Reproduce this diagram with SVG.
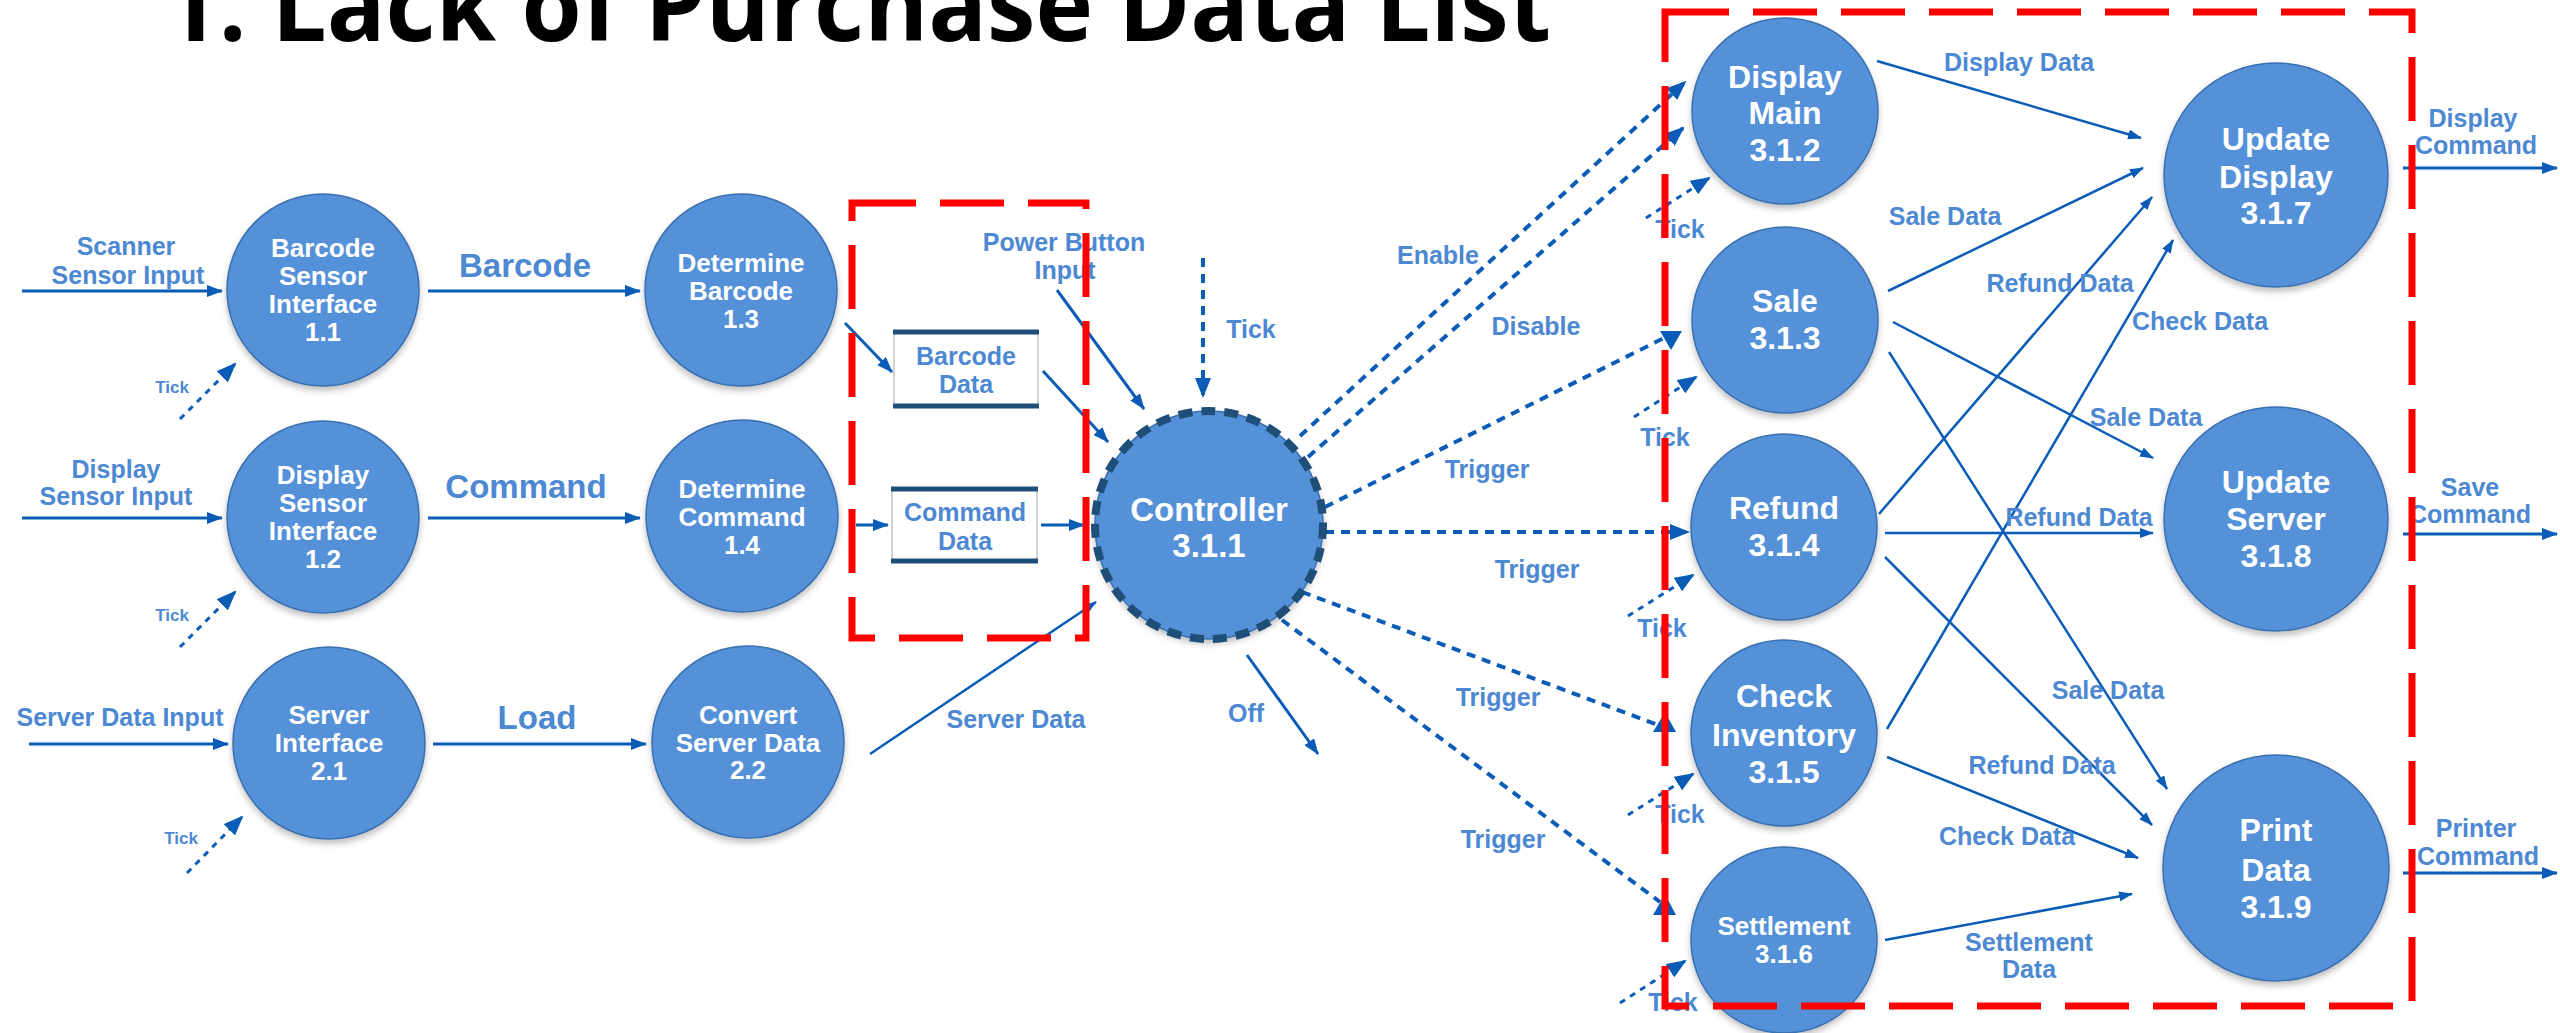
<svg xmlns="http://www.w3.org/2000/svg" width="2560" height="1033" viewBox="0 0 2560 1033">
<style>
.bub{fill:#5591d8;stroke:#3b6fae;stroke-width:1.5;filter:url(#sh)}
.nt{font-family:"Liberation Sans",Arial,sans-serif;font-weight:bold;fill:#ffffff;text-anchor:middle}
.s26{font-size:26px}
.s32{font-size:32px}
.s33{font-size:33px}
.lbl{font-family:"Liberation Sans",Arial,sans-serif;font-weight:bold;fill:#4d88d2;text-anchor:middle;font-size:25px}
.big{font-size:33px}
.sm{font-size:17px}
.ar{fill:none;stroke:#0b5cb6;stroke-width:3;marker-end:url(#ah)}
.ar2{fill:none;stroke:#0b5cb6;stroke-width:2.5;marker-end:url(#ahs)}
.dsh{fill:none;stroke:#0b5cb6;stroke-width:4;stroke-dasharray:9 7}
.dsha{fill:none;stroke:#0b5cb6;stroke-width:4;stroke-dasharray:9 7;marker-end:url(#ahd)}
.tck{fill:none;stroke:#0b5cb6;stroke-width:3;stroke-dasharray:6 6;marker-end:url(#ahd)}
.tri{fill:#0b5cb6}
.red{fill:none;stroke:#ff0000;stroke-width:7;stroke-dasharray:64 24}
.store{fill:#ffffff;stroke:#a6a6a6;stroke-width:1}
.bar{stroke:#1f4e79;stroke-width:5}
</style>
<defs>
<filter id="sh" x="-20%" y="-20%" width="140%" height="150%">
<feDropShadow dx="0" dy="4" stdDeviation="3" flood-color="#000000" flood-opacity="0.25"/>
</filter>
<marker id="ah" viewBox="0 0 16 12" markerWidth="16" markerHeight="12" refX="15" refY="6" orient="auto" markerUnits="userSpaceOnUse">
<path d="M0,0 L16,6 L0,12 z" fill="#0b5cb6"/>
</marker>
<marker id="ahs" viewBox="0 0 14 10" markerWidth="14" markerHeight="10" refX="13" refY="5" orient="auto" markerUnits="userSpaceOnUse">
<path d="M0,0 L14,5 L0,10 z" fill="#0b5cb6"/>
</marker>
<marker id="ahd" viewBox="0 0 20 16" markerWidth="20" markerHeight="16" refX="18" refY="8" orient="auto" markerUnits="userSpaceOnUse">
<path d="M0,0 L20,8 L0,16 z" fill="#0b5cb6"/>
</marker>
</defs>
<rect x="0" y="0" width="2560" height="1033" fill="#ffffff"/>

<text x="163" y="41" font-family="'Open Sans','Noto Sans',sans-serif" font-weight="bold" font-size="100" fill="#000000" textLength="1388" lengthAdjust="spacingAndGlyphs">1. Lack of Purchase Data List</text>

<g id="connectors">
<line class="ar" x1="22" y1="291" x2="222" y2="291"/>
<line class="ar" x1="428" y1="291" x2="640" y2="291"/>
<line class="ar" x1="22" y1="518" x2="222" y2="518"/>
<line class="ar" x1="428" y1="518" x2="640" y2="518"/>
<line class="ar" x1="29" y1="744" x2="228" y2="744"/>
<line class="ar" x1="433" y1="744" x2="646" y2="744"/>
<line class="tck" x1="180" y1="419" x2="235" y2="364"/>
<line class="tck" x1="180" y1="647" x2="235" y2="592"/>
<line class="tck" x1="187" y1="873" x2="242" y2="817"/>
<line class="ar" x1="845" y1="323" x2="892" y2="372"/>
<line class="ar" x1="856" y1="525" x2="888" y2="525"/>
<line class="ar" x1="1041" y1="525" x2="1084" y2="525"/>
<line class="ar" x1="1043" y1="371" x2="1108" y2="442"/>
<line class="ar" x1="1057" y1="290" x2="1144" y2="409"/>
<line class="dsha" x1="1203" y1="258" x2="1203" y2="396"/>
<line class="ar2" x1="870" y1="754" x2="1096" y2="602"/>
<line class="ar" x1="1247" y1="655" x2="1318" y2="754"/>

<line class="dsha" x1="1300" y1="436" x2="1685" y2="82"/>
<line class="dsha" x1="1308" y1="457" x2="1683" y2="128"/>
<line class="dsh" x1="1325" y1="507" x2="1664" y2="338"/>
<polygon class="tri" points="1660,331 1682,331 1671,350"/>
<line class="dsha" x1="1325" y1="532" x2="1688" y2="532"/>
<line class="dsh" x1="1302" y1="592" x2="1658" y2="725"/>
<polygon class="tri" points="1653,732 1676,732 1665,712"/>
<line class="dsh" x1="1282" y1="620" x2="1660" y2="902"/>
<polygon class="tri" points="1653,915 1676,915 1665,894"/>

<line class="tck" x1="1646" y1="218" x2="1709" y2="178"/>
<line class="tck" x1="1634" y1="417" x2="1696" y2="377"/>
<line class="tck" x1="1628" y1="616" x2="1693" y2="575"/>
<line class="tck" x1="1628" y1="815" x2="1693" y2="774"/>
<line class="tck" x1="1620" y1="1003" x2="1685" y2="961"/>

<line class="ar2" x1="1877" y1="61" x2="2141" y2="138"/>
<line class="ar2" x1="1888" y1="291" x2="2143" y2="168"/>
<line class="ar2" x1="1879" y1="514" x2="2152" y2="197"/>
<line class="ar2" x1="1887" y1="729" x2="2173" y2="240"/>
<line class="ar2" x1="1893" y1="322" x2="2153" y2="458"/>
<line class="ar2" x1="1885" y1="533" x2="2153" y2="533"/>
<line class="ar2" x1="1889" y1="352" x2="2167" y2="789"/>
<line class="ar2" x1="1885" y1="557" x2="2152" y2="825"/>
<line class="ar2" x1="1887" y1="757" x2="2138" y2="858"/>
<line class="ar2" x1="1885" y1="940" x2="2132" y2="894"/>
<line class="ar" x1="2403" y1="168" x2="2557" y2="168"/>
<line class="ar" x1="2403" y1="534" x2="2557" y2="534"/>
<line class="ar" x1="2403" y1="873" x2="2557" y2="873"/>

<text class="lbl" x="126" y="246" dy="0.35em">Scanner</text>
<text class="lbl" x="128" y="275" dy="0.35em">Sensor Input</text>
<text class="lbl" x="116" y="469" dy="0.35em">Display</text>
<text class="lbl" x="116" y="496" dy="0.35em">Sensor Input</text>
<text class="lbl" x="120" y="717" dy="0.35em" font-size="24">Server Data Input</text>
<text class="lbl sm" x="172" y="387" dy="0.35em">Tick</text>
<text class="lbl sm" x="172" y="615" dy="0.35em">Tick</text>
<text class="lbl sm" x="181" y="838" dy="0.35em">Tick</text>
<text class="lbl big" x="525" y="265" dy="0.35em">Barcode</text>
<text class="lbl big" x="526" y="486" dy="0.35em">Command</text>
<text class="lbl big" x="537" y="717" dy="0.35em">Load</text>
<text class="lbl" x="1064" y="242" dy="0.35em">Power Button</text>
<text class="lbl" x="1065" y="270" dy="0.35em">Input</text>
<text class="lbl" x="1251" y="329" dy="0.35em">Tick</text>
<text class="lbl" x="1016" y="719" dy="0.35em">Server Data</text>
<text class="lbl" x="1246" y="713" dy="0.35em">Off</text>
<text class="lbl" x="1438" y="255" dy="0.35em">Enable</text>
<text class="lbl" x="1536" y="326" dy="0.35em">Disable</text>
<text class="lbl" x="1487" y="469" dy="0.35em">Trigger</text>
<text class="lbl" x="1537" y="569" dy="0.35em">Trigger</text>
<text class="lbl" x="1498" y="697" dy="0.35em">Trigger</text>
<text class="lbl" x="1503" y="839" dy="0.35em">Trigger</text>
<text class="lbl" x="1680" y="229" dy="0.35em">Tick</text>
<text class="lbl" x="1665" y="437" dy="0.35em">Tick</text>
<text class="lbl" x="1662" y="628" dy="0.35em">Tick</text>
<text class="lbl" x="1680" y="814" dy="0.35em">Tick</text>
<text class="lbl" x="1673" y="1002" dy="0.35em">Tick</text>
<text class="lbl" x="2019" y="62" dy="0.35em" font-size="24">Display Data</text>
<text class="lbl" x="1945" y="216" dy="0.35em" font-size="24">Sale Data</text>
<text class="lbl" x="2060" y="283" dy="0.35em" font-size="24">Refund Data</text>
<text class="lbl" x="2200" y="321" dy="0.35em" font-size="24">Check Data</text>
<text class="lbl" x="2146" y="417" dy="0.35em" font-size="24">Sale Data</text>
<text class="lbl" x="2079" y="517" dy="0.35em" font-size="24">Refund Data</text>
<text class="lbl" x="2108" y="690" dy="0.35em" font-size="24">Sale Data</text>
<text class="lbl" x="2042" y="765" dy="0.35em" font-size="24">Refund Data</text>
<text class="lbl" x="2007" y="836" dy="0.35em" font-size="24">Check Data</text>
<text class="lbl" x="2029" y="942" dy="0.35em" font-size="24">Settlement</text>
<text class="lbl" x="2029" y="969" dy="0.35em" font-size="24">Data</text>
<text class="lbl" x="2473" y="118" dy="0.35em" font-size="24">Display</text>
<text class="lbl" x="2476" y="145" dy="0.35em" font-size="24">Command</text>
<text class="lbl" x="2470" y="487" dy="0.35em" font-size="24">Save</text>
<text class="lbl" x="2470" y="514" dy="0.35em" font-size="24">Command</text>
<text class="lbl" x="2476" y="828" dy="0.35em" font-size="24">Printer</text>
<text class="lbl" x="2478" y="856" dy="0.35em" font-size="24">Command</text>
</g>

<g id="n1_1">
<circle class="bub" cx="323" cy="290" r="96"/>
<text class="nt s26" x="323" y="248" dy="0.35em">Barcode</text>
<text class="nt s26" x="323" y="276" dy="0.35em">Sensor</text>
<text class="nt s26" x="323" y="304" dy="0.35em">Interface</text>
<text class="nt s26" x="323" y="332" dy="0.35em">1.1</text>
</g>
<g id="n1_2">
<circle class="bub" cx="323" cy="517" r="96"/>
<text class="nt s26" x="323" y="475" dy="0.35em">Display</text>
<text class="nt s26" x="323" y="503" dy="0.35em">Sensor</text>
<text class="nt s26" x="323" y="531" dy="0.35em">Interface</text>
<text class="nt s26" x="323" y="559" dy="0.35em">1.2</text>
</g>
<g id="n2_1">
<circle class="bub" cx="329" cy="743" r="96"/>
<text class="nt s26" x="329" y="715" dy="0.35em">Server</text>
<text class="nt s26" x="329" y="743" dy="0.35em">Interface</text>
<text class="nt s26" x="329" y="771" dy="0.35em">2.1</text>
</g>
<g id="n1_3">
<circle class="bub" cx="741" cy="290" r="96"/>
<text class="nt s26" x="741" y="263" dy="0.35em">Determine</text>
<text class="nt s26" x="741" y="291" dy="0.35em">Barcode</text>
<text class="nt s26" x="741" y="319" dy="0.35em">1.3</text>
</g>
<g id="n1_4">
<circle class="bub" cx="742" cy="516" r="96"/>
<text class="nt s26" x="742" y="489" dy="0.35em">Determine</text>
<text class="nt s26" x="742" y="517" dy="0.35em">Command</text>
<text class="nt s26" x="742" y="545" dy="0.35em">1.4</text>
</g>
<g id="n2_2">
<circle class="bub" cx="748" cy="742" r="96"/>
<text class="nt s26" x="748" y="715" dy="0.35em">Convert</text>
<text class="nt s26" x="748" y="743" dy="0.35em">Server Data</text>
<text class="nt s26" x="748" y="770" dy="0.35em">2.2</text>
</g>
<g id="store_barcode">
<rect class="store" x="894" y="332" width="144" height="74"/>
<line class="bar" x1="893" y1="332" x2="1039" y2="332"/>
<line class="bar" x1="893" y1="406" x2="1039" y2="406"/>
<text class="lbl" x="966" y="356" dy="0.35em">Barcode</text>
<text class="lbl" x="966" y="384" dy="0.35em">Data</text>
</g>
<g id="store_command">
<rect class="store" x="892" y="489" width="145" height="72"/>
<line class="bar" x1="891" y1="489" x2="1038" y2="489"/>
<line class="bar" x1="891" y1="561" x2="1038" y2="561"/>
<text class="lbl" x="965" y="512" dy="0.35em">Command</text>
<text class="lbl" x="965" y="541" dy="0.35em">Data</text>
</g>
<g id="n3_1_1">
<circle class="bub" cx="1209" cy="525" r="114"/>
<circle cx="1209" cy="525" r="114" fill="none" stroke="#1f4e79" stroke-width="8" stroke-dasharray="14 9"/>
<text class="nt s33" x="1209" y="509" dy="0.35em">Controller</text>
<text class="nt s33" x="1209" y="545" dy="0.35em">3.1.1</text>
</g>
<g id="n3_1_2">
<circle class="bub" cx="1785" cy="111" r="93"/>
<text class="nt s32" x="1785" y="77" dy="0.35em">Display</text>
<text class="nt s32" x="1785" y="113" dy="0.35em">Main</text>
<text class="nt s32" x="1785" y="150" dy="0.35em">3.1.2</text>
</g>
<g id="n3_1_3">
<circle class="bub" cx="1785" cy="320" r="93"/>
<text class="nt s32" x="1785" y="301" dy="0.35em">Sale</text>
<text class="nt s32" x="1785" y="338" dy="0.35em">3.1.3</text>
</g>
<g id="n3_1_4">
<circle class="bub" cx="1784" cy="527" r="93"/>
<text class="nt s32" x="1784" y="508" dy="0.35em">Refund</text>
<text class="nt s32" x="1784" y="545" dy="0.35em">3.1.4</text>
</g>
<g id="n3_1_5">
<circle class="bub" cx="1784" cy="733" r="93"/>
<text class="nt s32" x="1784" y="696" dy="0.35em">Check</text>
<text class="nt s32" x="1784" y="735" dy="0.35em">Inventory</text>
<text class="nt s32" x="1784" y="772" dy="0.35em">3.1.5</text>
</g>
<g id="n3_1_6">
<circle class="bub" cx="1784" cy="940" r="93"/>
<text class="nt s26" x="1784" y="926" dy="0.35em">Settlement</text>
<text class="nt s26" x="1784" y="954" dy="0.35em">3.1.6</text>
</g>
<g id="n3_1_7">
<circle class="bub" cx="2276" cy="175" r="112"/>
<text class="nt s32" x="2276" y="139" dy="0.35em">Update</text>
<text class="nt s32" x="2276" y="177" dy="0.35em">Display</text>
<text class="nt s32" x="2276" y="213" dy="0.35em">3.1.7</text>
</g>
<g id="n3_1_8">
<circle class="bub" cx="2276" cy="519" r="112"/>
<text class="nt s32" x="2276" y="482" dy="0.35em">Update</text>
<text class="nt s32" x="2276" y="519" dy="0.35em">Server</text>
<text class="nt s32" x="2276" y="556" dy="0.35em">3.1.8</text>
</g>
<g id="n3_1_9">
<circle class="bub" cx="2276" cy="868" r="113"/>
<text class="nt s32" x="2276" y="830" dy="0.35em">Print</text>
<text class="nt s32" x="2276" y="870" dy="0.35em">Data</text>
<text class="nt s32" x="2276" y="907" dy="0.35em">3.1.9</text>
</g>

<g id="highlights">
<path class="red" d="M852,203 H1086 V638 H852 Z"/>
<path class="red" d="M1665,12 H2412 V1006 H1665 Z"/>
</g>
</svg>
